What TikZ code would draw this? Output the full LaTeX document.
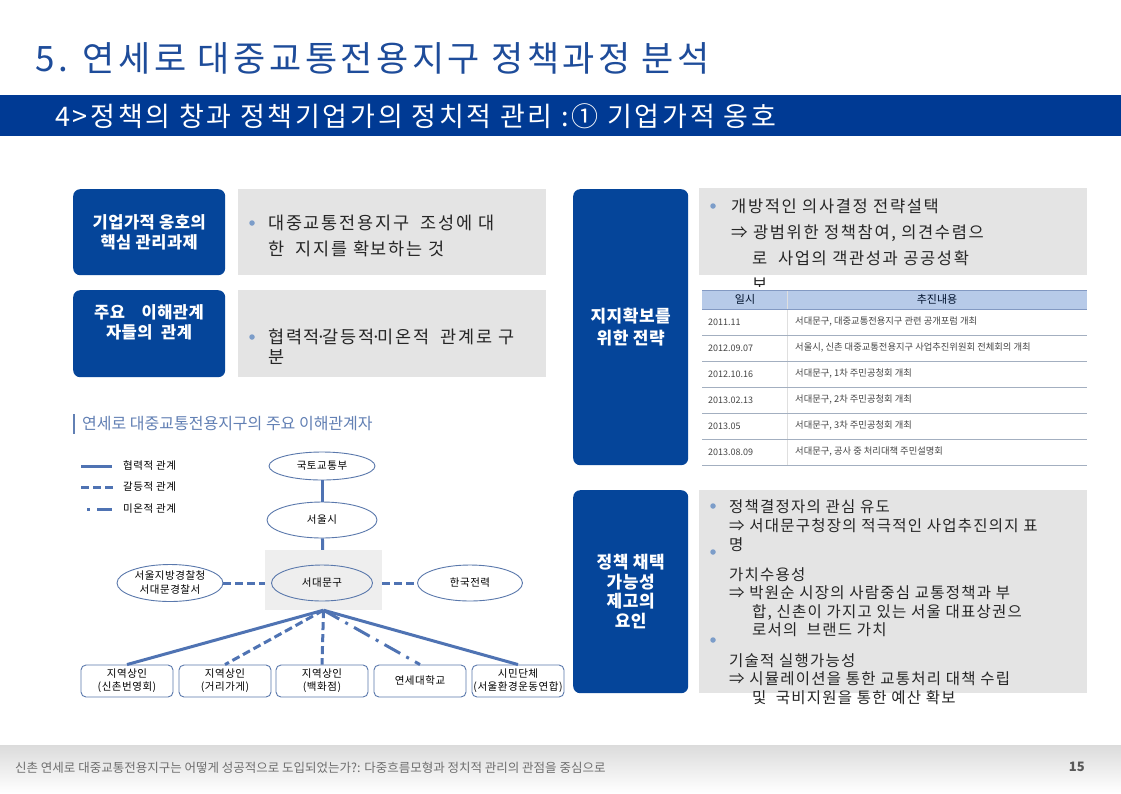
\documentclass[tikz,border=0pt]{standalone}
\usepackage{fontspec}
\usepackage{tikz}
\usetikzlibrary{positioning,shapes.geometric,calc}
\setmainfont{Noto Sans CJK KR}
\newfontfamily\krwide[LetterSpace=10]{Noto Sans CJK KR}
\newfontfamily\krmid[LetterSpace=8]{Noto Sans CJK KR}
\newfontfamily\krsome[LetterSpace=5]{Noto Sans CJK KR}
\newfontfamily\krtight[LetterSpace=3]{Noto Sans CJK KR}
\newcommand\midpt{\kern-3.5pt·\kern-3.5pt}
\definecolor{cTitle}   {HTML}{1E4C9A}
\definecolor{cBar}     {HTML}{003A94}
\definecolor{cKey}     {HTML}{05459A}
\definecolor{cPanel}   {HTML}{E4E4E4}
\definecolor{cHub}     {HTML}{EEEEEE}
\definecolor{cLink}    {HTML}{4F73B3}
\definecolor{cEdge}    {HTML}{5A78AC}
\definecolor{cDot}     {HTML}{7C9DC9}
\definecolor{cSub}     {HTML}{6280B4}
\definecolor{cHeadRow} {HTML}{B7CAE8}
\definecolor{cHeadLine}{HTML}{8399C2}
\definecolor{cRule}    {HTML}{A3AFC0}
\definecolor{cCell}    {HTML}{444444}
\definecolor{cFoot}    {HTML}{6E6E6E}

\begin{document}
\begin{tikzpicture}[x=1pt,y=-1pt,
    keybox/.style={fill=cKey,rounded corners=7pt,text=white,align=center,inner sep=0pt,
      font=\krtight\bfseries\fontsize{16.5}{20}\selectfont},
    keytext/.style={text=white,align=center,inner sep=0pt,
      font=\krtight\bfseries\fontsize{16.5}{20}\selectfont},
    panel/.style={fill=cPanel,inner sep=0pt,anchor=north west},
    bul/.style={circle,fill=cDot,inner sep=0pt,minimum size=5.5pt},
    note/.style={anchor=north west,align=left,inner sep=0pt,text=black!85},
    party/.style={ellipse,draw=cEdge,line width=0.9pt,inner sep=0pt,align=center,
      font=\krsome\fontsize{10.5}{14}\selectfont},
    unit/.style={draw=cEdge,rounded corners=5pt,line width=0.9pt,fill=white,
      minimum width=92pt,minimum height=32pt,inner sep=0pt,align=center,
      font=\krsome\fontsize{10.5}{13}\selectfont},
    legend/.style={anchor=west,inner sep=0pt,font=\krsome\fontsize{10.5}{12}\selectfont},
    coop/.style={cLink,line width=3pt},
    confl/.style={cLink,line width=3pt,dash pattern=on 8pt off 4pt},
    lukew/.style={cLink,line width=3pt,dash pattern=on 18pt off 7pt on 3pt off 7pt},
    headcell/.style={inner sep=0pt,text=black!70!cBar,font=\fontsize{11}{13}\selectfont},
    datecell/.style={anchor=west,inner sep=0pt,text=cCell,font=\fontsize{9}{11}\selectfont},
    evcell/.style={anchor=west,inner sep=0pt,text=cCell,font=\fontsize{9.3}{11}\selectfont}]
  \useasboundingbox (0,0) rectangle (1121,793);
  \fill[white] (0,0) rectangle (1121,793);

  % title and band
  \node[anchor=west,inner sep=0pt,text=cTitle,font=\krwide\fontsize{35}{40}\selectfont]
    (title) at (35,58) {5. 연세로 대중교통전용지구 정책과정 분석};
  \node[fill=cBar,anchor=north west,inner sep=0pt,minimum width=1121pt,minimum height=41pt]
    (bar) at (0,95) {};
  \node[anchor=west,inner sep=0pt,text=white,font=\krwide\fontsize{27}{30}\selectfont]
    (subtitle) at (55,116) {4>정책의 창과 정책기업가의 정치적 관리 :① 기업가적 옹호};

  % left key boxes
  \node[keybox,anchor=north west,minimum width=152pt,minimum height=86pt]
    (core) at (73,189) {기업가적 옹호의\\핵심 관리과제};
  \node[panel,minimum width=308pt,minimum height=86pt,right=12pt of core] (corebg) {};
  \node[bul] (corebul) at (252,223) {};
  \node[note,font=\krwide\fontsize{17.5}{26}\selectfont] (corenote) at (268,215)
    {대중교통전용지구~ 조성에 대\\한~ 지지를 확보하는 것};

  \node[keybox,anchor=north west,minimum width=152pt,minimum height=87pt]
    (party) at (73,290) {};
  \node[keytext] (partytxt) at (149,322) {주요\quad 이해관계\\자들의~ 관계};
  \node[panel,minimum width=308pt,minimum height=87pt,right=12pt of party] (partybg) {};
  \node[bul] (partybul) at (252,337) {};
  \node[note,font=\krwide\fontsize{17.5}{20}\selectfont] (partynote) at (268,329)
    {협력적\midpt 갈등적\midpt 미온적~ 관계로 구\\분};

  % stakeholders
  \node[anchor=west,inner sep=0pt,text=cSub,font=\fontsize{16}{20}\selectfont]
    (stakehead) at (82,424) {연세로 대중교통전용지구의 주요 이해관계자};
  \draw[cSub,line width=2.5pt] ($(stakehead.west)+(-8,-10)$) -- ++(0,20);

  \node[legend] (lgcoop)  at (123,466) {협력적 관계};
  \node[legend] (lgconfl) at (123,487) {갈등적 관계};
  \node[legend] (lglukew) at (123,509) {미온적 관계};
  \draw[coop]  ([xshift=-42pt]lgcoop.west)  -- ([xshift=-11pt]lgcoop.west);
  \draw[confl] ([xshift=-42pt]lgconfl.west) -- ([xshift=-10pt]lgconfl.west);
  \draw[lukew,dash phase=25pt] ([xshift=-36pt]lglukew.west) -- ([xshift=-11pt]lglukew.west);

  \node[fill=cHub,minimum width=117pt,minimum height=60pt,inner sep=0pt] (sdmbg) at (323.5,580) {};
  \node[party,minimum width=106pt,minimum height=28pt] (molit) at (322,466) {국토교통부};
  \node[party,minimum width=110pt,minimum height=36pt] (seoul) at (322,520) {서울시};
  \node[party,minimum width=101pt,minimum height=36pt] (sdm)   at (322,583) {서대문구};
  \node[party,minimum width=106pt,minimum height=37pt] (police) at (170,583) {서울지방경찰청\\서대문경찰서};
  \node[party,minimum width=105pt,minimum height=36pt] (kepco) at (470,583) {한국전력};

  \node[unit] (u1) at (127,681) {지역상인\\(신촌번영회)};
  \node[unit] (u2) at (225,681) {지역상인\\(거리가게)};
  \node[unit] (u3) at (322,681) {지역상인\\(백화점)};
  \node[unit] (u4) at (420,681) {연세대학교};
  \node[unit] (u5) at (518,681) {시민단체\\(서울환경운동연합)};

  \draw[coop] (molit) -- (seoul);
  \draw[coop] (seoul) -- (sdmbg);
  \draw[confl] (police.east) -- (police.east -| sdmbg.west);
  \draw[confl] (sdmbg.east |- kepco.west) -- (kepco.west);
  \draw[coop]  (sdmbg.south) -- (u1.north);
  \draw[confl] (sdmbg.south) -- (u2.north);
  \draw[confl] (sdmbg.south) -- (u3.north);
  \draw[lukew] (sdmbg.south) -- (u4.north);
  \draw[coop]  (sdmbg.south) -- (u5.north);

  % right: strategy
  \node[keybox,anchor=north west,minimum width=115pt,minimum height=276pt,
    font=\krtight\bfseries\fontsize{17}{22}\selectfont]
    (strat) at (573,189) {지지확보를\\위한 전략};
  \node[panel,minimum width=388pt,minimum height=87pt] (stratbg) at (699,188) {};
  \node[bul] (stratbul) at (713,206) {};
  \node[note,font=\krwide\fontsize{16.5}{26}\selectfont] (stratnote) at (731,199)
    {개방적인 의사결정 전략설택\\⇒ 광범위한 정책참여, 의견수렴으\\\hspace*{21pt}로~ 사업의 객관성과 공공성확\\\hspace*{21pt}보};

  \fill[white] (702,287) rectangle (1087,290);
  \fill[cHeadRow] (702,290) rectangle (1087,309);
  \draw[white!75!gray] (787,290) -- (787,465);
  \draw[cHeadLine,line width=1pt] (702,290) -- (1087,290);
  \draw[cHeadLine,line width=1pt] (702,309) -- (1087,309);
  \node[headcell] (hdate) at (745,299.5) {일시};
  \node[headcell] (hwhat) at (937,299.5) {추진내용};
  \foreach \d/\t [count=\i] in {2011.11/{서대문구, 대중교통전용지구 관련 공개포럼 개최},
      2012.09.07/{서울시, 신촌 대중교통전용지구 사업추진위원회 전체회의 개최},
      2012.10.16/{서대문구, 1차 주민공청회 개최},
      2013.02.13/{서대문구, 2차 주민공청회 개최},
      2013.05/{서대문구, 3차 주민공청회 개최},
      2013.08.09/{서대문구, 공사 중 처리대책 주민설명회}}
    {\node[datecell] (d\i) at (708,296+26*\i) {\d};
     \node[evcell] (e\i) at (795,296+26*\i) {\t};
     \draw[cRule] (702,309+26*\i) -- (1087,309+26*\i);}

  % right: adoption
  \node[keybox,anchor=north west,minimum width=115pt,minimum height=203pt,
    font=\krtight\bfseries\fontsize{17}{19.5}\selectfont]
    (adopt) at (573,490) {정책 채택\\가능성\\제고의\\요인};
  \node[panel,minimum width=388pt,minimum height=203pt] (adoptbg) at (699,490) {};
  \node[bul] (adbul1) at (713,506) {};
  \node[bul] (adbul2) at (713,552) {};
  \node[bul] (adbul3) at (713,640) {};
  \node[note,font=\krmid\fontsize{15.5}{19}\selectfont] (adnote1) at (729,499)
    {정책결정자의 관심 유도\\⇒ 서대문구청장의 적극적인 사업추진의지 표\\명};
  \node[note,font=\krmid\fontsize{15.5}{18.5}\selectfont] (adnote2) at (729,567)
    {가치수용성\\⇒ 박원순 시장의 사람중심 교통정책과 부\\\hspace*{23pt}합, 신촌이 가지고 있는 서울 대표상권으\\\hspace*{23pt}로서의~ 브랜드 가치};
  \node[note,font=\krmid\fontsize{15.5}{18.5}\selectfont] (adnote3) at (729,653)
    {기술적 실행가능성\\⇒ 시뮬레이션을 통한 교통처리 대책 수립\\\hspace*{23pt}및~ 국비지원을 통한 예산 확보};

  % footer
  \shade[top color=black!14,bottom color=white] (0,745) rectangle (1121,793);
  \node[anchor=west,inner sep=0pt,text=cFoot,font=\fontsize{12.5}{14}\selectfont]
    (foot) at (15,768) {신촌 연세로 대중교통전용지구는 어떻게 성공적으로 도입되었는가?: 다중흐름모형과 정치적 관리의 관점을 중심으로};
  \node[anchor=east,inner sep=0pt,text=black!65,font=\bfseries\fontsize{13}{15}\selectfont]
    (pageno) at (1085,767) {15};
\end{tikzpicture}
\end{document}
